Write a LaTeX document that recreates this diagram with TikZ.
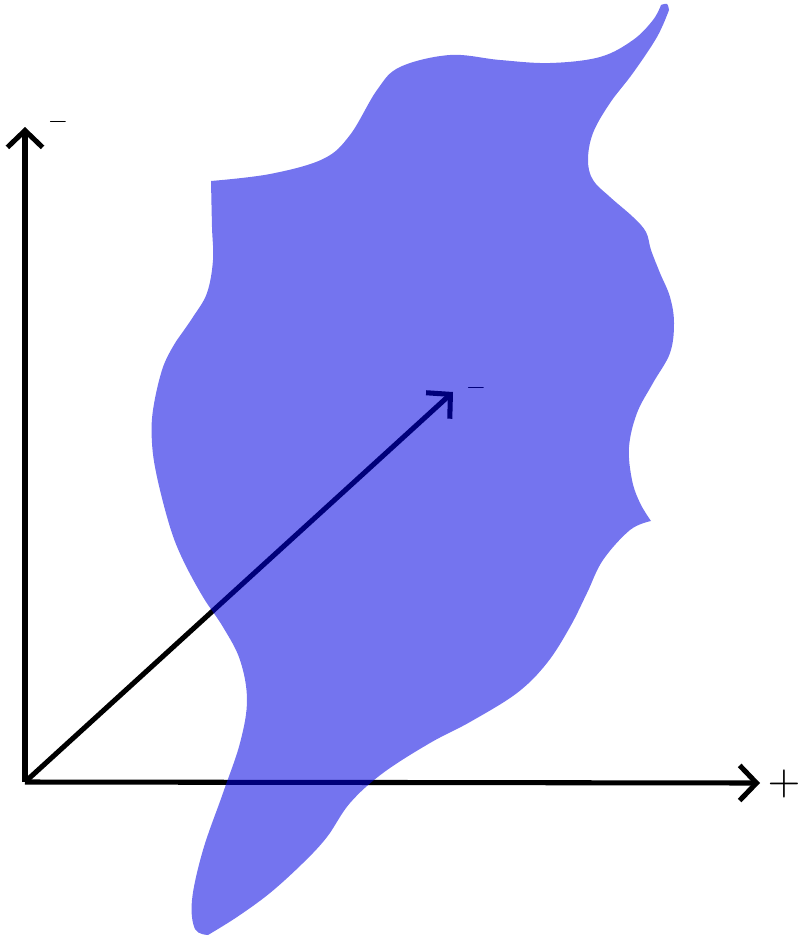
\documentclass[tikz,border=0pt]{standalone}
\usepackage{amsmath,amssymb}
\usepackage{xcolor}
\usepackage{tikz}
\usetikzlibrary{arrows.meta,positioning}
\definecolor{blobblue}{RGB}{0,0,225}
\tikzset{
  axarr/.style={-{Straight Barb[length=12pt,width=25pt]},line width=3.6pt},
  blob/.style={fill=blobblue,fill opacity=0.545},
  biglab/.style={scale=3,inner sep=0pt},
  smlab/.style={scale=1.85,inner sep=0pt},
}
\begin{document}
\begin{tikzpicture}[x=0.025cm,y=-0.025cm]
\useasboundingbox (0,0) rectangle (801,940);
\coordinate (O) at (25,782);
\coordinate (ytip) at (25,127);
\coordinate (xtip) at (760,783);
\coordinate (vtip) at (453,392);
\draw[axarr] (O)--(ytip);
\draw[axarr] (O)--(xtip);
\draw[axarr] (O)--(vtip);
\node[smlab] (ylab) at (58,122) {$-$};
\node[smlab] (vlab) at (476,388) {$-$};
\node[biglab] (xlab) at (784,784) {$+$};
% region
\fill[blob] plot[smooth,tension=0.6] coordinates {(211,181) (270,174) (323,159) (350,135) (377,90) (400,67) (450,55) (500,60) (550,63) (600,57) (633,40) (653,20) (661,5)}
 -- plot[smooth,tension=0.6] coordinates {(661,5) (667,4) (669,10)}
 -- plot[smooth,tension=0.6] coordinates {(669,10) (657,37) (633,73) (610,103) (593,133) (588,160) (593,180) (610,197) (633,217) (646,232) (651,250) (660,273) (670,297) (674,323) (670,353) (653,383) (637,413) (629,447) (632,480) (640,503) (651,521)}
 -- plot[smooth,tension=0.6] coordinates {(651,521) (630,530) (603,560) (587,593) (570,627) (547,663) (517,693) (470,722) (430,743) (383,773) (350,803) (327,837) (303,863) (270,893) (237,917) (208,935)}
 -- plot[smooth,tension=0.6] coordinates {(208,935) (195,929) (192,900) (203,850) (223,793) (240,743) (247,700) (240,660) (223,627) (203,597) (183,560) (170,527) (157,477) (152,443) (153,410) (163,367) (177,340)}
 -- plot[smooth,tension=0.6] coordinates {(177,340) (193,317) (207,293) (213,260) (212,227) (211,181)} -- cycle;
\end{tikzpicture}
\end{document}
